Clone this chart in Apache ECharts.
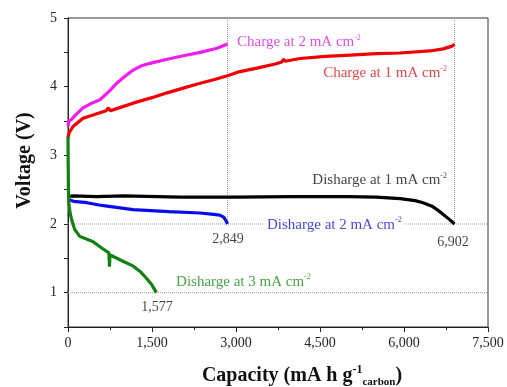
<!DOCTYPE html>
<html>
<head>
<meta charset="utf-8">
<script src="https://cdn.jsdelivr.net/npm/echarts@6/dist/echarts.min.js"></script>
<style>
  html, body { margin: 0; padding: 0; background: #fff; }
  #main { width: 507px; height: 387px; }
</style>
</head>
<body>
<div id="main"></div>
<script>
// capacity (mA h g-1 carbon), voltage (V)
var charge2 = [[0,3.42],[15,3.5],[60,3.52],[150,3.6],[268,3.69],[400,3.75],[570,3.81],[720,3.92],[870,4.05],[1000,4.14],[1160,4.24],[1300,4.3],[1464,4.34],[1770,4.4],[2060,4.45],[2360,4.5],[2660,4.56],[2849,4.62]];
var charge1 = [[0,3.25],[20,3.33],[90,3.42],[268,3.54],[570,3.62],[680,3.65],[720,3.69],[760,3.65],[870,3.68],[1160,3.76],[1500,3.84],[1770,3.91],[2100,3.99],[2360,4.05],[2600,4.1],[2849,4.16],[3070,4.22],[3375,4.27],[3700,4.33],[3820,4.36],[3850,4.4],[3880,4.37],[4140,4.41],[4600,4.44],[5040,4.46],[5500,4.48],[5930,4.49],[6460,4.52],[6700,4.55],[6860,4.59],[6902,4.62]];
var discharge1 = [[0,2.4],[100,2.41],[500,2.4],[1000,2.41],[2000,2.39],[3000,2.39],[4000,2.4],[5000,2.4],[5500,2.39],[5930,2.37],[6200,2.34],[6340,2.31],[6500,2.26],[6640,2.18],[6820,2.06],[6902,2.0]];
var discharge2 = [[0,2.38],[30,2.35],[100,2.33],[340,2.31],[600,2.27],[1160,2.21],[1800,2.18],[2360,2.16],[2600,2.14],[2710,2.13],[2780,2.1],[2820,2.05],[2849,2.0]];
var discharge3 = [[0,3.27],[3,2.9],[8,2.5],[15,2.3],[40,2.15],[70,2.05],[120,1.92],[210,1.82],[450,1.74],[620,1.64],[730,1.58],[740,1.38],[750,1.55],[800,1.53],[1000,1.45],[1160,1.39],[1300,1.3],[1400,1.21],[1500,1.11],[1577,1.0]];

var cutoffVoltages = [2, 1];
var endCapacities = [2849, 6902];
var endLabels = ['2,849', '6,902', '1,577'];
var curveNames = ['Charge at 2 mA cm', 'Charge at 1 mA cm', 'Disharge at 1 mA cm', 'Disharge at 2 mA cm', 'Disharge at 3 mA cm'];

var xTicks = [0, 1500, 3000, 4500, 6000, 7500];
var yTicks = [1, 2, 3, 4, 5];

var font = 'Liberation Serif';
var colors = ['#f01cf0', '#f00000', '#000000', '#0a0af0', '#128012'];
var textColors = ['#d81ed8', '#d41818', '#111111', '#1818d0', '#1a8a1a'];

// where the annotations sit, in data coordinates
var notePos = [
  {xy: [3018, 4.65], align: 'left'},
  {xy: [6768, 4.2], align: 'right'},
  {xy: [6768, 2.64], align: 'right'},
  {xy: [3500, 1.99], align: 'left', bg: true},
  {xy: [1930, 1.16], align: 'left'}
];
var endPos = [[2857, 1.77], [6875, 1.74], [1590, 0.78]];

var refLines = [];
cutoffVoltages.forEach(function (v) { refLines.push([[0, v], [7500, v]]); });
endCapacities.forEach(function (c) { refLines.push([[c, 5], [c, 2]]); });

var series = [];
refLines.forEach(function (seg) {
  series.push({
    type: 'line', data: seg, symbol: 'none', silent: true, z: 1,
    lineStyle: {color: '#999', width: 1, type: 'dotted'}
  });
});

[charge2, charge1, discharge1, discharge2, discharge3].forEach(function (d, i) {
  series.push({
    type: 'line', data: d, symbol: 'none', z: 3,
    lineStyle: {color: colors[i], width: 3.2}
  });
});

var noteData = curveNames.map(function (t, i) {
  var p = notePos[i];
  return {
    value: p.xy,
    label: {
      show: true, position: 'inside', align: p.align, verticalAlign: 'middle',
      formatter: '{t|' + t + '}{s|-2}',
      backgroundColor: p.bg ? '#fff' : 'transparent',
      padding: p.bg ? [1, 3] : 0,
      rich: {
        t: {fontFamily: font, fontSize: 15, color: textColors[i], lineHeight: 17},
        s: {fontFamily: font, fontSize: 8, color: textColors[i], lineHeight: 17, verticalAlign: 'top'}
      }
    }
  };
});
endLabels.forEach(function (t, i) {
  noteData.push({
    value: endPos[i],
    label: {
      show: true, position: 'inside', align: 'center', verticalAlign: 'middle',
      formatter: t, fontFamily: font, fontSize: 14, color: '#111'
    }
  });
});
series.push({
  type: 'scatter', symbolSize: 0, silent: true, z: 5,
  data: noteData
});

var chart = echarts.init(document.getElementById('main'));
chart.setOption({
  animation: false,
  grid: {
    left: 68, right: 19, top: 18, bottom: 60, outerBoundsMode: 'none', containLabel: false,
    show: true, borderColor: '#333', borderWidth: 1, backgroundColor: 'transparent'
  },
  xAxis: {
    type: 'value', min: xTicks[0], max: xTicks[xTicks.length - 1], interval: 1500,
    splitLine: {show: false},
    axisLine: {lineStyle: {color: '#222', width: 1}},
    axisTick: {length: 5, lineStyle: {color: '#222'}},
    minorTick: {show: true, splitNumber: 2, length: 3, lineStyle: {color: '#222'}},
    axisLabel: {
      fontFamily: font, fontSize: 14, color: '#222', margin: 9,
      formatter: function (v) { return v.toLocaleString('en-US'); }
    },
    name: '{b|Capacity (mA h g}{sup|-1}{sub|carbon}{b|)}',
    nameLocation: 'middle', nameGap: 37,
    nameTextStyle: {
      padding: [0, 0, 0, 48],
      rich: {
        b: {fontFamily: font, fontSize: 20, fontWeight: 'bold', color: '#111', lineHeight: 24},
        sup: {fontFamily: font, fontSize: 12, fontWeight: 'bold', color: '#111', lineHeight: 24, verticalAlign: 'top'},
        sub: {fontFamily: font, fontSize: 11, fontWeight: 'bold', color: '#111', lineHeight: 24, verticalAlign: 'bottom'}
      }
    }
  },
  yAxis: {
    type: 'value', min: 0.5, max: yTicks[yTicks.length - 1], interval: 0.5,
    splitLine: {show: false},
    axisLine: {lineStyle: {color: '#222', width: 1}},
    axisTick: {length: 4, lineStyle: {color: '#222'}},
    axisLabel: {
      fontFamily: font, fontSize: 14, color: '#222', margin: 11,
      formatter: function (v) { return yTicks.indexOf(v) >= 0 ? String(v) : ''; }
    },
    name: 'Voltage (V)', nameLocation: 'middle', nameGap: 33,
    nameTextStyle: {fontFamily: font, fontSize: 20, fontWeight: 'bold', color: '#111', padding: [0, 0, 0, 24]}
  },
  series: series
});
</script>
</body>
</html>
